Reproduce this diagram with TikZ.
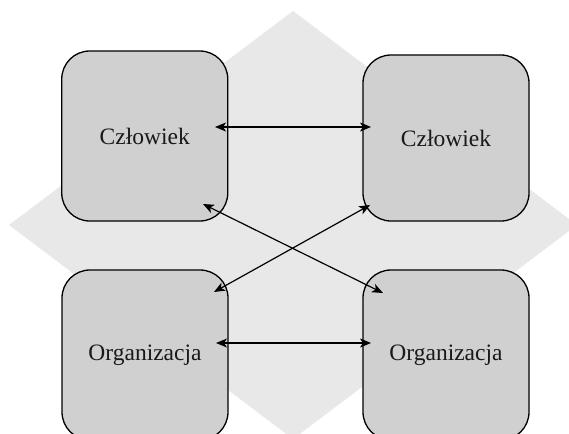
\documentclass[tikz,border=0pt]{standalone}
\usepackage{fontspec}
\setmainfont{Liberation Serif}
\usetikzlibrary{arrows.meta}
\definecolor{diamondgray}{RGB}{232,232,232}
\definecolor{boxgray}{RGB}{208,208,208}
\tikzset{
  box/.style={draw=black, line width=1.3pt, fill=boxgray, rounded corners=28pt,
    minimum width=166pt, minimum height=170pt, inner sep=0pt,
    font=\fontsize{23.5pt}{28pt}\selectfont, text=black!90},
  link/.style={line width=1.2pt, black,
    {Stealth[length=11pt,width=9pt,inset=3pt]}-{Stealth[length=11pt,width=9pt,inset=3pt]}}
}
\begin{document}
\begin{tikzpicture}[x=1pt, y=-1pt]
  \useasboundingbox (0,0) rectangle (569,433);
  \clip (0,0) rectangle (569,433);
  % background diamond
  \fill[diamondgray] (293,11) -- (577,225) -- (293,439) -- (9,225) -- cycle;
  % four rounded boxes
  \node[box] (tl) at (144.75,136) {Człowiek};
  \node[box, minimum height=166pt] (tr) at (446,138) {Człowiek};
  \node[box] (bl) at (145,355) {Organizacja};
  \node[box] (br) at (446,355) {Organizacja};
  % arrow end points inside the boxes
  \coordinate (tlE) at (215,127);
  \coordinate (trW) at (371,127);
  \coordinate (blE) at (216,343);
  \coordinate (brW) at (371,343);
  \coordinate (tlS) at (203,204);
  \coordinate (brN) at (383,293);
  \coordinate (trS) at (370,205);
  \coordinate (blN) at (214,292);
  % connectors
  \draw[link] (tlE) -- (trW);
  \draw[link] (blE) -- (brW);
  \draw[link] (tlS) -- (brN);
  \draw[link] (trS) -- (blN);
\end{tikzpicture}
\end{document}
